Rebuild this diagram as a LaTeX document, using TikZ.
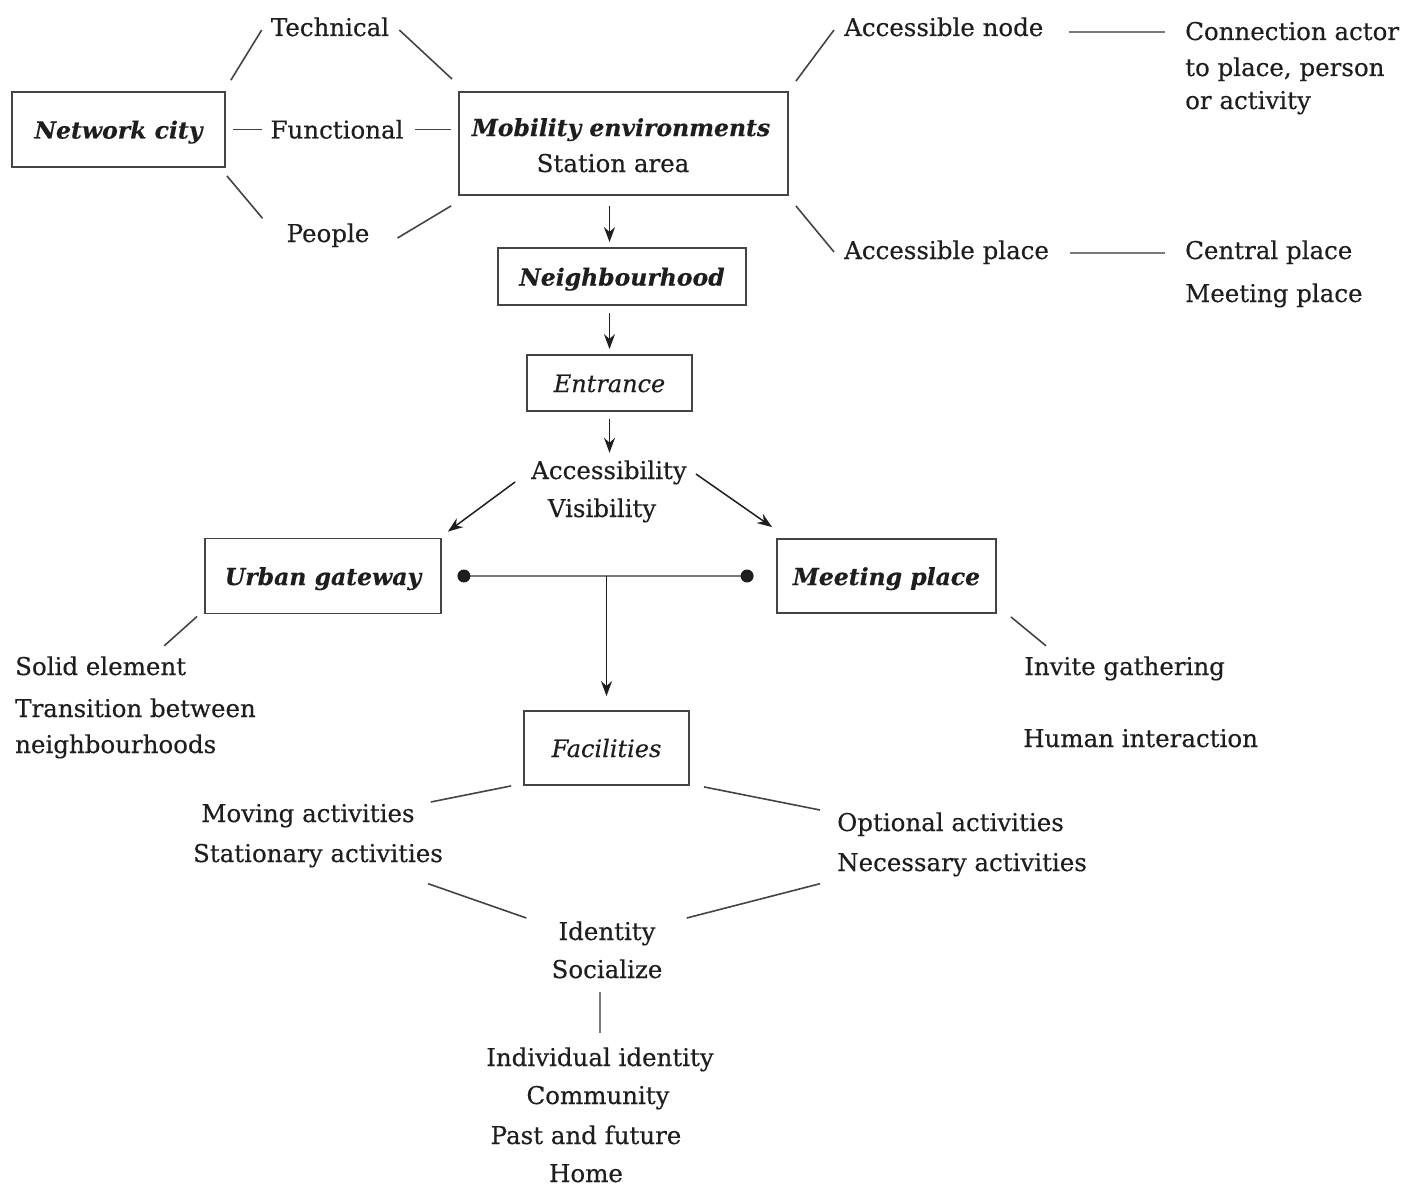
\documentclass[tikz,border=0pt]{standalone}
\usepackage{fontspec}
\setmainfont{DejaVu Serif}[FakeBold=0.35]
\usetikzlibrary{arrows.meta}
\definecolor{ink}{HTML}{1E1E1E}
\definecolor{rule}{HTML}{444444}
\definecolor{softrule}{HTML}{7A7A7A}
\begin{document}
\begin{tikzpicture}[x=1pt,y=-1pt,
  lbl/.style={inner sep=0pt, text=ink, font=\fontsize{24.5}{28}\selectfont,
    text height=18pt, text depth=0pt},
  lft/.style={lbl, anchor=west},
  box/.style={lbl, draw=rule, line width=1.8pt, rectangle},
  heading/.style={font=\fontsize{23.5}{28}\selectfont\bfseries\itshape},
  slanted/.style={font=\fontsize{24}{28}\selectfont\itshape},
  link/.style={draw=rule, line width=1.6pt},
  softlink/.style={draw=softrule, line width=2.4pt},
  flow/.style={draw=ink, line width=1.5pt, -{Stealth[length=15pt,width=11pt]}},
]
\useasboundingbox (0,0) rectangle (1404,1188);

% ---- top row: network city and mobility environments
\node[box, heading, minimum width=213pt, minimum height=75pt] (city) at (118.5,129.5) {Network city};
\node[lbl] (tech) at (330,27) {Technical};
\node[lbl] (func) at (337,129.5) {Functional};
\node[lbl] (people) at (328,233) {People};
\node[box, minimum width=329pt, minimum height=103pt] (mob) at (623.5,143.5) {};
\node[lbl, heading] (mobT) at (621,127) {Mobility environments};
\node[lbl] (mobS) at (613,163) {Station area};

\node[lft] (an) at (844,27) {Accessible node};
\node[lft] (ca1) at (1185,31) {Connection actor};
\node[lft] (ca2) at (1185,67) {to place, person};
\node[lft] (ca3) at (1185,100) {or activity};
\node[lft] (ap) at (844,250) {Accessible place};
\node[lft] (cp) at (1185,250) {Central place};
\node[lft] (mpl) at (1185,293) {Meeting place};

\draw[link] ([shift={(5,-11)}]city.north east) -- ([shift={(-9,3)}]tech.west);
\draw[link] ([shift={(10,3)}]tech.east) -- ([shift={(-6,-12)}]mob.north west);
\draw[link] ([xshift=7pt]city.east) -- ([xshift=-8pt]func.west);
\draw[link] ([xshift=11pt]func.east) -- ([xshift=-7pt]mob.west |- func.east);
\draw[link] ([shift={(1,8)}]city.south east) -- ([shift={(-24,-5.5)}]people.north west);
\draw[link] ([shift={(28,5)}]people.east) -- ([shift={(-7,10)}]mob.south west);
\draw[link] ([shift={(7,-10)}]mob.north east) -- ([shift={(-10,3)}]an.west);
\draw[link] ([shift={(7,10)}]mob.south east) -- ([shift={(-10,2)}]ap.west);
\draw[softlink] ([shift={(25,5)}]an.east) -- ([shift={(-20,1)}]ca1.west);
\draw[softlink] ([shift={(21,3)}]ap.east) -- ([shift={(-20,3)}]cp.west);

% ---- central spine
\node[box, heading, minimum width=248pt, minimum height=57pt] (nb) at (622,276.5) {Neighbourhood};
\node[box, slanted, minimum width=165pt, minimum height=56pt] (ent) at (609.5,383) {Entrance};
\node[lbl] (acc1) at (609,470) {Accessibility};
\node[lbl] (acc2) at (602,508) {Visibility};

\draw[flow, shorten <=10pt, shorten >=5pt] (mob.south -| ent.north) -- (nb.north -| ent.north);
\draw[flow, shorten <=7pt, shorten >=5pt] (nb.south -| ent.north) -- (ent.north);
\draw[flow, shorten <=7pt, shorten >=8pt] (ent.south) -- (ent.south |- acc1.north);

% ---- gateway and meeting place
\node[box, heading, minimum width=236pt, minimum height=75pt] (ug) at (323,576) {Urban gateway};
\node[box, heading, minimum width=219pt, minimum height=74pt] (mp) at (886.5,576) {Meeting place};

\draw[flow] ([shift={(-16,12)}]acc1.west) -- ([shift={(6,-6)}]ug.north east);
\draw[flow] ([shift={(9,4)}]acc1.east) -- ([shift={(-4,-11)}]mp.north west);

\coordinate (ga) at ([xshift=22pt]ug.east);
\coordinate (gb) at ([xshift=-29pt]mp.west);
\draw[softlink] (ga) -- (gb);
\fill[ink] (ga) circle (6.5pt) (gb) circle (6.5pt);

\node[lft] (se1) at (15,666) {Solid element};
\node[lft] (se2) at (15,708) {Transition between};
\node[lft] (se3) at (15,744) {neighbourhoods};
\node[lft] (ig) at (1024,666) {Invite gathering};
\node[lft] (hi) at (1023,738) {Human interaction};

\draw[link] ([shift={(-7,2)}]ug.south west) -- ([shift={(-22,-11)}]se1.north east);
\draw[link] ([shift={(14,3)}]mp.south east) -- ([shift={(22,-11)}]ig.north west);

% ---- facilities and activities
\node[box, slanted, minimum width=165pt, minimum height=74pt] (fac) at (606.5,748) {Facilities};
\coordinate (gm) at (ga -| fac.north);
\draw[flow, shorten >=14pt] (gm) -- (fac.north);

\node[lbl] (mv) at (308,813) {Moving activities};
\node[lbl] (st) at (318,853) {Stationary activities};
\node[lft] (oa) at (837,822) {Optional activities};
\node[lft] (na) at (837,862) {Necessary activities};

\draw[link] ([xshift=-12pt]fac.south west) -- ([shift={(16,-11)}]mv.east);
\draw[link] ([shift={(14,1)}]fac.south east) -- ([shift={(-17,-12)}]oa.west);

% ---- identity
\node[lbl] (id1) at (607,931) {Identity};
\node[lbl] (id2) at (607,969) {Socialize};
\node[lbl] (ii) at (600,1057) {Individual identity};
\node[lbl] (cm) at (598,1095) {Community};
\node[lbl] (pf) at (586,1135) {Past and future};
\node[lbl] (hm) at (586,1173) {Home};

\draw[link] ([shift={(-15,21.5)}]st.south east) -- ([shift={(-32,-13)}]id1.west);
\draw[link] ([shift={(-17,12.5)}]na.south west) -- ([shift={(31,-13)}]id1.east);
\draw[softlink, line width=1.8pt, shorten <=13.5pt, shorten >=14.5pt] (id2.south -| ii.north) -- (ii.north);
\end{tikzpicture}
\end{document}
